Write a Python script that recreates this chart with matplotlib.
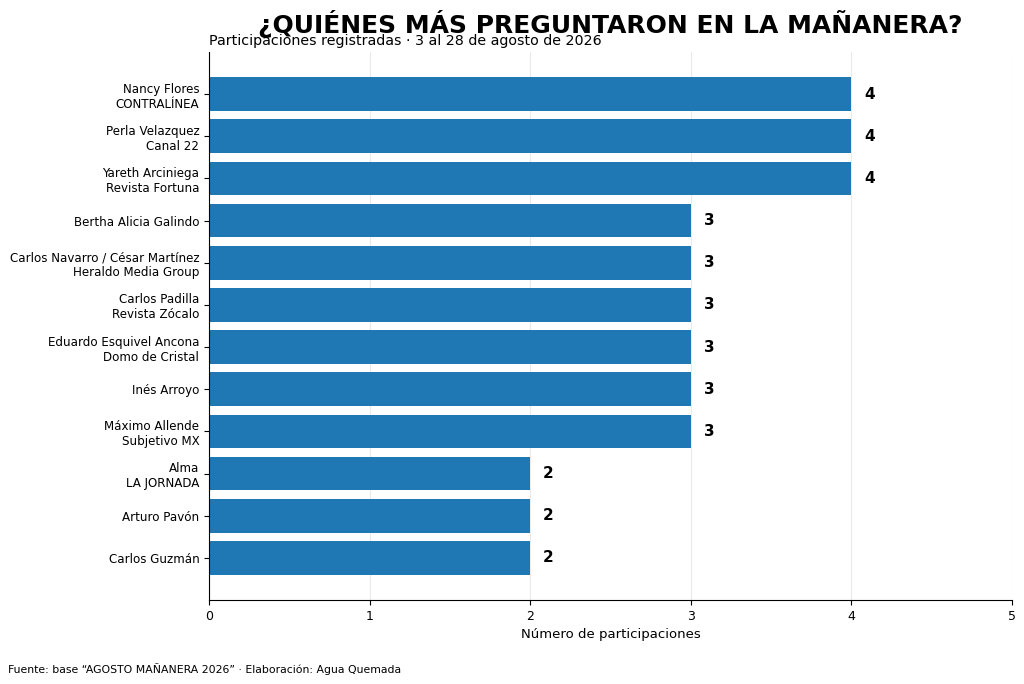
import matplotlib
matplotlib.use("Agg")
import matplotlib.pyplot as plt

nombres = [
    "Nancy Flores\nCONTRALÍNEA",
    "Perla Velazquez\nCanal 22",
    "Yareth Arciniega\nRevista Fortuna",
    "Bertha Alicia Galindo",
    "Carlos Navarro / César Martínez\nHeraldo Media Group",
    "Carlos Padilla\nRevista Zócalo",
    "Eduardo Esquivel Ancona\nDomo de Cristal",
    "Inés Arroyo",
    "Máximo Allende\nSubjetivo MX",
    "Alma\nLA JORNADA",
    "Arturo Pavón",
    "Carlos Guzmán",
]
participaciones = [4, 4, 4, 3, 3, 3, 3, 3, 3, 2, 2, 2]

fig = plt.figure(figsize=(10.24, 6.84), dpi=100)
ax = fig.add_axes([209/1024, 84/684, 803/1024, 548/684])

pos = list(range(len(nombres)))
ax.barh(pos, participaciones, height=0.8, color="#1f77b4", zorder=2)
for p, v in zip(pos, participaciones):
    ax.text(v + 0.08, p, str(v), va="center", ha="left", fontsize=11, fontweight="bold")

ax.set_yticks(pos)
ax.set_yticklabels(nombres, fontsize=8.6)
ax.set_ylim(12, -1)
ax.set_xlim(0, 5)
ax.set_xticks(range(6))
ax.tick_params(axis="x", labelsize=9)
ax.set_xlabel("Número de participaciones", fontsize=9.5)
ax.grid(axis="x", color="#dddddd", alpha=0.6, linewidth=0.8, zorder=0)
ax.spines["top"].set_visible(False)
ax.spines["right"].set_visible(False)

fig.text(610/1024, 1 - 24/684, "¿QUIÉNES MÁS PREGUNTARON EN LA MAÑANERA?",
         ha="center", va="center", fontsize=18, fontweight="bold")
fig.text(209/1024, 1 - 41/684, "Participaciones registradas · 3 al 28 de agosto de 2026",
         ha="left", va="center", fontsize=10.3)
fig.text(8/1024, 1 - 669/684, "Fuente: base “AGOSTO MAÑANERA 2026” · Elaboración: Agua Quemada",
         ha="left", va="center", fontsize=7.8)

fig.savefig("out.png", dpi=100)
